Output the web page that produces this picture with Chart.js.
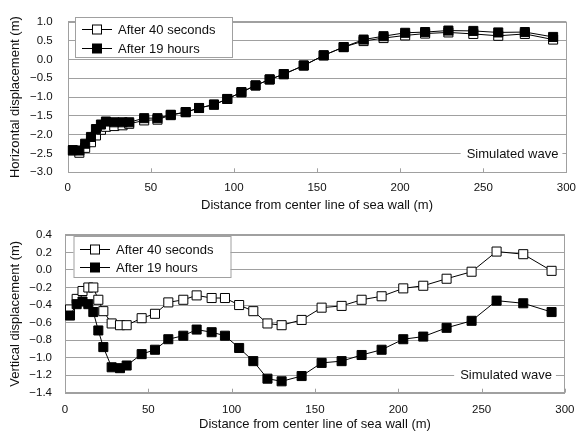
<!DOCTYPE html>
<html><head><meta charset="utf-8">
<script src="https://cdn.jsdelivr.net/npm/chart.js@4/dist/chart.umd.min.js"></script>
<style>
html,body{margin:0;padding:0;background:#fff;width:585px;height:434px;overflow:hidden}
canvas{position:absolute;left:0}
#c1{top:0}
#c2{top:215px}
</style></head><body>
<canvas id="c1" width="585" height="215"></canvas>
<canvas id="c2" width="585" height="219"></canvas>
<script>
// ---- data ----
const distance = [3, 7, 10.5, 14, 17, 20, 23, 28, 33, 37, 46, 54, 62, 71, 79, 88, 96, 104.5, 113, 121.5, 130, 142, 154, 166, 178, 190, 203, 215, 229, 244, 259, 275, 292];
const seriesNames = ['After 40 seconds', 'After 19 hours'];
const horiz40s = [-2.42, -2.48, -2.35, -2.20, -2.02, -1.87, -1.79, -1.77, -1.75, -1.71, -1.62, -1.60, -1.48, -1.40, -1.29, -1.20, -1.05, -0.87, -0.69, -0.53, -0.39, -0.16, 0.11, 0.33, 0.49, 0.57, 0.64, 0.69, 0.72, 0.68, 0.63, 0.68, 0.53];
const horiz19h = [-2.41, -2.42, -2.24, -2.06, -1.85, -1.73, -1.65, -1.67, -1.67, -1.67, -1.56, -1.56, -1.47, -1.40, -1.29, -1.20, -1.05, -0.87, -0.69, -0.53, -0.39, -0.16, 0.11, 0.33, 0.53, 0.62, 0.71, 0.73, 0.77, 0.76, 0.72, 0.73, 0.60];
const vert40s = [-0.45, -0.33, -0.24, -0.20, -0.20, -0.34, -0.47, -0.61, -0.63, -0.63, -0.55, -0.50, -0.37, -0.34, -0.29, -0.32, -0.32, -0.40, -0.47, -0.61, -0.63, -0.57, -0.43, -0.41, -0.34, -0.30, -0.21, -0.18, -0.10, -0.02, 0.21, 0.18, -0.01];
const vert19h = [-0.52, -0.39, -0.36, -0.39, -0.48, -0.69, -0.88, -1.11, -1.12, -1.09, -0.96, -0.91, -0.79, -0.75, -0.68, -0.71, -0.75, -0.89, -1.04, -1.24, -1.27, -1.21, -1.06, -1.04, -0.97, -0.91, -0.79, -0.76, -0.66, -0.58, -0.35, -0.38, -0.48];
const xTitle = 'Distance from center line of sea wall (m)';
const hTitle = 'Horizontal displacement (m)';
const vTitle = 'Vertical displacement (m)';
const noteText = 'Simulated wave';

const FONT = "'Liberation Sans', Arial, sans-serif";
const GRID = '#a0a0a0';

function pts(xs, ys){ return xs.map((x,i)=>({x:x, y:ys[i]})); }
function fmt(v){ const s = Number(v).toFixed(1); return s.replace('-', '\u2212'); }

const decoPlugin = {
  id: 'deco',
  beforeDatasetsDraw(chart, args, o){
    const {ctx, chartArea:a, scales} = chart;
    ctx.save();
    // frame
    ctx.strokeStyle = GRID; ctx.lineWidth = 1;
    ctx.strokeRect(Math.round(a.left)+0.5, Math.round(a.top)+0.5, Math.round(a.right-a.left)-1, Math.round(a.bottom-a.top));
    // inner x ticks
    const xs = scales.x;
    xs.ticks.forEach(t=>{
      const px = Math.round(xs.getPixelForValue(t.value))+0.5;
      ctx.beginPath(); ctx.moveTo(px, a.bottom); ctx.lineTo(px, a.bottom-4); ctx.stroke();
    });
    // note label
    ctx.font = '13px ' + FONT;
    const w = ctx.measureText(o.text).width;
    const y = scales.y.getPixelForValue(o.value);
    const xr = a.right - o.right;
    ctx.fillStyle = '#fff';
    ctx.fillRect(xr - w - 6, y - 8, w + 10, 16);
    ctx.fillStyle = '#111'; ctx.textAlign = 'right'; ctx.textBaseline = 'middle';
    ctx.fillText(o.text, xr, y+0.5);
    ctx.restore();
  },
  afterDatasetsDraw(chart, args, o){
    const {ctx} = chart;
    const L = o.legend;
    ctx.save();
    ctx.fillStyle = '#fff';
    ctx.fillRect(L.x, L.y, L.w, L.h);
    ctx.strokeStyle = GRID; ctx.lineWidth = 1;
    ctx.strokeRect(L.x+0.5, L.y+0.5, L.w, L.h);
    ctx.font = '13px ' + FONT;
    ctx.textAlign = 'left'; ctx.textBaseline = 'middle';
    const order = [0,1];
    order.forEach((di, k)=>{
      const ds = chart.data.datasets[di];
      const y = Math.round(L.rows[k]) + 0.5;
      ctx.strokeStyle = '#000'; ctx.lineWidth = 1;
      ctx.beginPath(); ctx.moveTo(L.x1, y); ctx.lineTo(L.x2, y); ctx.stroke();
      const s = 9;
      const mx = Math.round((L.x1+L.x2)/2);
      ctx.fillStyle = ds.pointBackgroundColor;
      ctx.fillRect(mx - s/2, y - s/2, s, s);
      ctx.strokeRect(mx - s/2, y - s/2, s, s);
      ctx.fillStyle = '#111';
      ctx.fillText(ds.label, L.tx, y+0.5);
    });
    ctx.restore();
  }
};

function makeChart(id, yA, yB, yTitleText, cfg){
  return new Chart(document.getElementById(id), {
    type: 'line',
    data: {
      datasets: [
        {label: seriesNames[0], data: pts(distance, yA), borderColor:'#000', borderWidth:1, pointStyle:'rect', pointRadius:6.4, pointBorderWidth:1, pointBorderColor:'#000', pointBackgroundColor:'#fff', tension:0, order:2},
        {label: seriesNames[1], data: pts(distance, yB), borderColor:'#000', borderWidth:1, pointStyle:'rect', pointRadius:6.4, pointBorderWidth:1, pointBorderColor:'#000', pointBackgroundColor:'#000', tension:0, order:1}
      ]
    },
    options: {
      responsive:false, animation:false, events:[],
      layout:{padding:{top:cfg.padTop, right:cfg.padRight, left:0, bottom:0}},
      plugins:{legend:{display:false}, tooltip:{enabled:false},
        deco:{text:noteText, value:cfg.noteValue, right:cfg.noteRight, legend:cfg.legend}},
      scales:{
        x:{type:'linear', min:0, max:300,
          afterFit(s){ s.height = cfg.xH; },
          ticks:{stepSize:50, padding:cfg.xTickPad, color:'#111', font:{family:FONT, size:11.5}},
          grid:{display:false, drawTicks:false},
          border:{display:false},
          title:{display:true, text:xTitle, color:'#111', font:{family:FONT, size:13}, padding:{top:0, bottom:2.2}}
        },
        y:{type:'linear', min:cfg.yMin, max:cfg.yMax,
          afterFit(s){ s.width = cfg.yW; },
          ticks:{stepSize:cfg.yStep, padding:cfg.yTickPad, color:'#111', font:{family:FONT, size:11.5}, callback:(v)=>fmt(v)},
          grid:{color:GRID, lineWidth:1, drawTicks:false},
          border:{display:false},
          title:{display:true, text:yTitleText, color:'#111', font:{family:FONT, size:13}, padding:{top:7.2, bottom:0}}
        }
      }
    },
    plugins:[decoPlugin]
  });
}

makeChart('c1', horiz40s, horiz19h, hTitle, {
  padTop:13.3, padRight:9.5, xH:42.7, yW:67.7, yMin:-3, yMax:1, yStep:0.5,
  xTickPad:9, yTickPad:15, noteValue:-2.5, noteRight:8,
  legend:{x:75, y:17, w:157, h:40, x1:82, x2:112, tx:118, rows:[29, 47.5]}
});
makeChart('c2', vert40s, vert19h, vTitle, {
  padTop:18.3, padRight:10, xH:41.3, yW:65, yMin:-1.4, yMax:0.4, yStep:0.2,
  xTickPad:10.5, yTickPad:13, noteValue:-1.2, noteRight:13,
  legend:{x:73.5, y:21, w:157, h:41, x1:80, x2:110, tx:116, rows:[33.5, 52]}
});
</script>
</body></html>
